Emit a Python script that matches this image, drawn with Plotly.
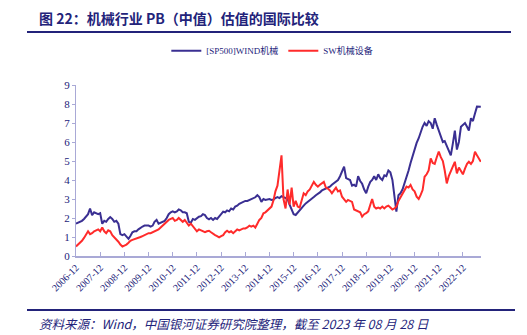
import plotly.graph_objects as go

# Monthly PB (median) readings, 2006-12 through 2023-08
months = [f"{y}-{m:02d}-01" for y in range(2006, 2024) for m in range(1, 13)]
months = [d for d in months if "2006-12-01" <= d <= "2023-08-01"]
months[-1] = "2023-08-28"

pb_wind = [
    1.70,
    1.75, 1.80, 1.85, 1.95, 2.05, 2.20, 2.50, 2.15, 2.30, 2.25, 2.20, 2.25,
    1.70, 1.85, 1.80, 1.95, 2.05, 1.95, 1.80, 1.85, 1.70, 1.15, 1.10, 1.15,
    1.05, 0.90, 1.05, 1.25, 1.30, 1.30, 1.40, 1.50, 1.55, 1.60, 1.62, 1.60,
    1.55, 1.60, 1.80, 1.90, 1.70, 1.75, 1.80, 1.85, 2.00, 2.20, 2.30, 2.35,
    2.30, 2.35, 2.45, 2.40, 2.30, 2.30, 2.25, 1.80, 1.75, 1.95, 1.90, 2.00,
    2.07, 2.10, 2.20, 2.15, 2.00, 1.93, 2.00, 1.90, 2.00, 1.95, 2.05, 2.20,
    2.33, 2.30, 2.40, 2.35, 2.50, 2.45, 2.60, 2.65, 2.75, 2.80, 2.86, 2.90,
    2.90, 2.95, 3.00, 3.05, 3.09, 3.20, 3.10, 2.85, 3.00, 2.95, 2.97, 3.00,
    2.95, 2.97, 3.05, 3.10, 3.05, 3.15, 3.10, 3.05, 3.00, 2.70, 2.40, 2.20,
    2.16, 2.30, 2.40, 2.55, 2.65, 2.77, 2.85, 2.90, 3.00, 3.10, 3.20, 3.30,
    3.35, 3.45, 3.50, 3.55, 3.60, 3.65, 3.75, 3.85, 3.90, 4.00, 4.20, 4.50,
    4.70, 4.10, 4.05, 4.00, 3.70, 3.75, 3.65, 4.20, 3.95, 3.80, 3.50, 3.30,
    3.65, 3.90, 4.00, 4.20, 4.00, 4.30, 4.10, 4.00, 4.25, 4.20, 4.50, 4.40,
    4.00, 3.00, 2.33, 3.20, 3.30, 3.50, 3.80, 4.20, 4.50, 4.90, 5.30, 5.60,
    5.95, 6.20, 6.50, 6.80, 7.00, 6.85, 7.10, 7.00, 6.70, 7.25, 6.90, 6.60,
    6.30, 6.00, 6.05, 5.80, 5.60, 5.30, 5.90, 6.60, 5.60, 6.00, 6.80, 6.90,
    7.00, 6.80, 6.60, 7.25, 7.10, 7.50, 7.86, 7.85,
]

pb_sw = [
    0.50,
    0.60, 0.70, 0.80, 0.95, 1.10, 1.30, 1.15, 1.20, 1.30, 1.35, 1.40, 1.30,
    1.50, 1.30, 1.20, 1.35, 1.30, 1.10, 1.00, 0.85, 0.75, 0.60, 0.50, 0.55,
    0.60, 0.70, 0.80, 0.85, 0.88, 0.90, 0.95, 1.00, 1.05, 1.10, 1.15, 1.20,
    1.20, 1.25, 1.30, 1.35, 1.40, 1.50, 1.60, 1.70, 1.80, 1.90, 1.95, 2.00,
    1.85, 1.90, 2.00, 1.90, 1.80, 1.90, 1.75, 1.60, 1.70, 1.55, 1.40, 1.30,
    1.40, 1.35, 1.30, 1.25, 1.30, 1.33, 1.25, 1.16, 1.10, 1.05, 0.98, 1.05,
    1.10, 1.25, 1.33, 1.25, 1.30, 1.20, 1.30, 1.40, 1.35, 1.40, 1.45, 1.45,
    1.50, 1.60, 1.55, 1.60, 1.50, 1.70, 1.90, 2.00, 2.25, 2.30, 2.40, 2.50,
    2.60, 2.95, 3.40, 3.70, 4.50, 5.30, 3.00, 2.50, 3.50, 2.70, 3.60, 2.60,
    2.90, 2.60, 2.55, 2.90, 3.30, 3.20, 3.40, 3.50, 3.70, 3.90, 3.75, 3.65,
    3.75, 3.85, 3.90, 3.60, 3.55, 3.45, 3.30, 3.45, 3.60, 3.40, 3.45, 3.12,
    3.00, 2.85, 2.95, 2.90, 2.85, 2.45, 2.40, 2.35, 2.30, 2.07, 2.20, 2.25,
    2.35, 2.70, 3.00, 2.60, 2.50, 2.55, 2.50, 2.60, 2.50, 2.60, 2.65, 2.55,
    2.45, 2.50, 2.60, 2.90, 3.10, 3.30, 3.50, 3.65, 3.60, 3.74, 3.50, 3.40,
    3.12, 3.00, 3.20, 3.47, 4.17, 4.30, 4.50, 5.14, 4.90, 4.85, 5.20, 5.49,
    5.20, 5.00, 4.50, 3.82, 4.20, 4.50, 4.70, 4.96, 4.35, 4.66, 4.50, 4.30,
    4.60, 4.85, 4.96, 4.85, 5.00, 5.49, 5.30, 4.96,
]

tick_dates = [f"{y}-12-01" for y in range(2006, 2023)]
tick_labels = [f"{y}-12" for y in range(2006, 2023)]
y_ticks = list(range(0, 10))

NAVY = "#23237a"
AXIS = "#a9a9d6"
SERIF = "Liberation Serif, Noto Sans CJK SC"

fig = go.Figure()
fig.add_trace(go.Scatter(x=months, y=pb_wind, mode="lines", name="[SP500]WIND机械",
                         line=dict(color="#3a2f92", width=2)))
fig.add_trace(go.Scatter(x=months, y=pb_sw, mode="lines", name="SW机械设备",
                         line=dict(color="#ff2b2b", width=2)))

fig.update_layout(
    width=527, height=335,
    margin=dict(l=76, r=46, t=85, b=79),
    paper_bgcolor="white", plot_bgcolor="white",
    showlegend=True,
    legend=dict(orientation="h", x=0.223, y=1.2, xanchor="left", yanchor="middle",
                font=dict(family=SERIF, size=9, color=NAVY),
                itemwidth=30, bgcolor="rgba(0,0,0,0)"),
    xaxis=dict(type="date", range=["2006-12-01", "2023-08-31"],
               tickvals=tick_dates, ticktext=tick_labels, tickangle=-45,
               ticks="inside", ticklen=4, tickcolor=AXIS,
               showline=True, linecolor=AXIS, linewidth=2,
               showgrid=False, zeroline=False,
               tickfont=dict(family=SERIF, size=10, color=NAVY)),
    yaxis=dict(range=[0, 9], tickvals=y_ticks, ticks="outside", ticklen=3,
               tickcolor=AXIS, showline=True, linecolor=AXIS, linewidth=1,
               showgrid=False, zeroline=False,
               tickfont=dict(family=SERIF, size=11, color=NAVY)),
)

# Header and footer text
fig.add_annotation(text="<b>图 22：机械行业 PB（中值）估值的国际比较</b>",
                   xref="paper", yref="paper", x=(37 - 76) / 405, y=1 + (85 - 18) / 171,
                   xanchor="left", yanchor="middle", showarrow=False,
                   font=dict(family="Noto Sans CJK SC", size=14, color=NAVY))
fig.add_annotation(text="<i>资料来源：Wind，中国银河证券研究院整理，截至 2023 年 08 月 28 日</i>",
                   xref="paper", yref="paper", x=(37 - 76) / 405, y=-(323 - 256) / 171,
                   xanchor="left", yanchor="middle", showarrow=False,
                   font=dict(family="Noto Sans CJK SC", size=12.5, color=NAVY))

# Rules under the header and above the footer
fig.add_shape(type="line", xref="paper", yref="paper",
              x0=(27 - 76) / 405, x1=(511 - 76) / 405,
              y0=1 + (85 - 32) / 171, y1=1 + (85 - 32) / 171,
              line=dict(color=NAVY, width=2))
fig.add_shape(type="line", xref="paper", yref="paper",
              x0=(27 - 76) / 405, x1=(515 - 76) / 405,
              y0=-(310 - 256) / 171, y1=-(310 - 256) / 171,
              line=dict(color=NAVY, width=2))

fig.write_html("out.html")
